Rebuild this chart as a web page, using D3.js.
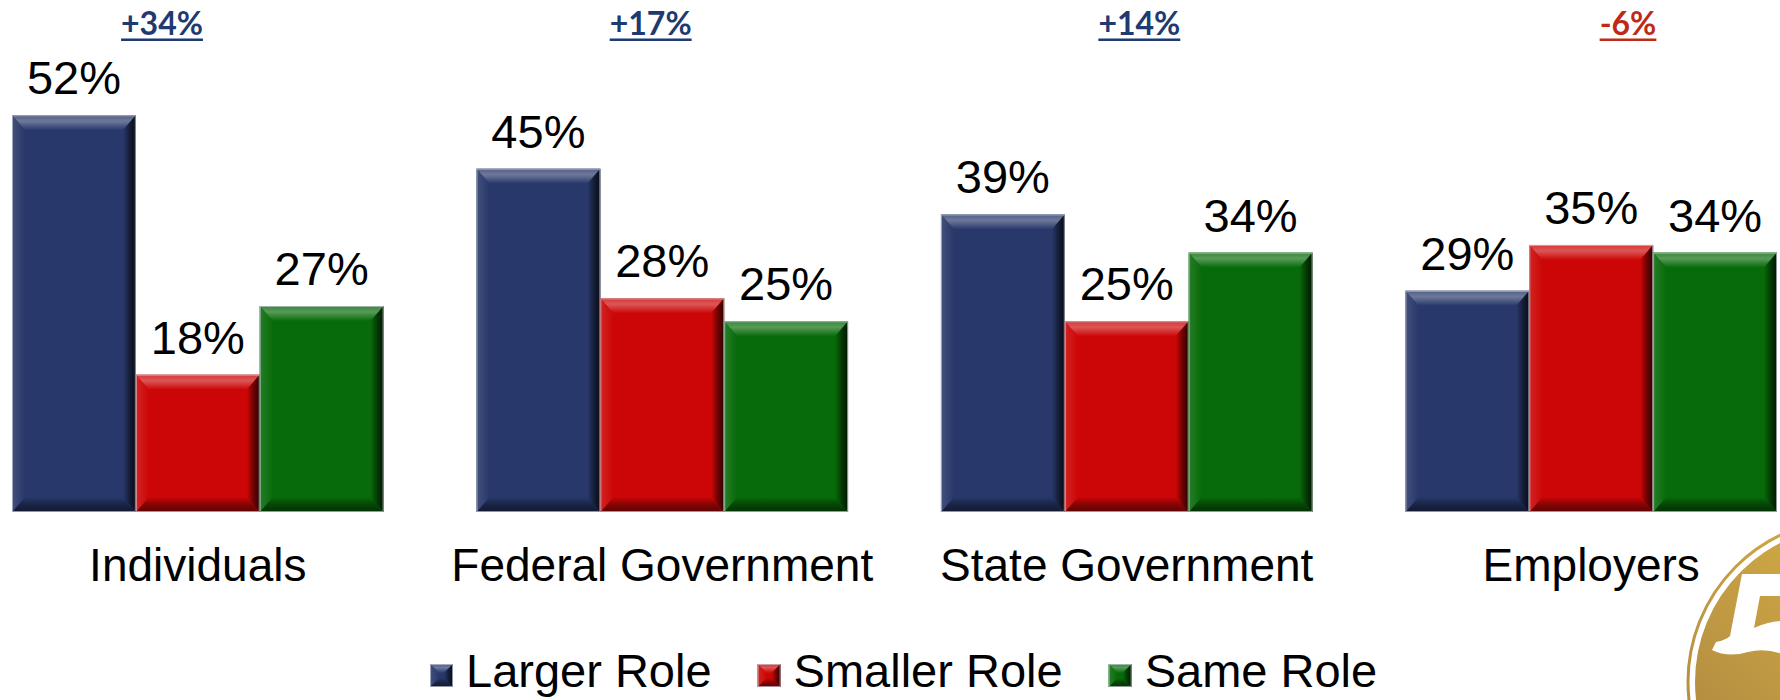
<!DOCTYPE html>
<html>
<head>
<meta charset="utf-8">
<script src="https://cdn.jsdelivr.net/npm/d3@7"></script>
<style>
  html, body { margin: 0; padding: 0; background: #ffffff; }
  svg { display: block; }
</style>
</head>
<body>
<svg id="chart" width="1780" height="700"></svg>
<script>
// Survey results: what role should each party play?
const categories  = ["Individuals", "Federal Government", "State Government", "Employers"];
const series      = ["Larger Role", "Smaller Role", "Same Role"];
const largerRole  = [52, 45, 39, 29];
const smallerRole = [18, 28, 25, 35];
const sameRole    = [27, 25, 34, 34];
const seriesColors = ["#28386a", "#cc0606", "#086b09"];

const svg = d3.select("#chart");
const defs = svg.append("defs");

const rows = categories.map((c, i) => ({
  category: c,
  values: [largerRole[i], smallerRole[i], sameRole[i]]
}));

// Net difference: larger role minus smaller role
const netLabels = rows.map(r => {
  const d = r.values[0] - r.values[1];
  return { category: r.category, value: d, text: (d > 0 ? "+" : "") + d + "%" };
});

// Scales
const x0 = d3.scaleBand().domain(categories).range([12, 1777]).paddingInner(0.2).paddingOuter(0);
const x1 = d3.scaleBand().domain(series).range([0, x0.bandwidth()]).padding(0);
const y = d3.scaleLinear().domain([0, 60]).range([512, 512 - 60 * 7.63]);
const netX = d3.scalePoint().domain(categories).range([162, 1628]);

// Bevel gradients for each series colour
const mix = (a, b, t) => d3.interpolateRgb(a, b)(t);
series.forEach((s, i) => {
  const base = seriesColors[i];
  const id = "s" + i;
  const grad = (name, gx1, gy1, gx2, gy2, stops) => {
    const g = defs.append("linearGradient").attr("id", id + name)
      .attr("x1", gx1).attr("y1", gy1).attr("x2", gx2).attr("y2", gy2);
    stops.forEach(([o, c]) => g.append("stop").attr("offset", o).attr("stop-color", c));
  };
  grad("top", 0, 0, 0, 1, [[0, mix(base, "#ffffff", 0.2)], [0.4, mix(base, "#ffffff", 0.32)], [1, base]]);
  grad("bottom", 0, 0, 0, 1, [[0, base], [0.5, mix(base, "#000000", 0.35)], [1, mix(base, "#000000", 0.55)]]);
  grad("left", 0, 0, 1, 0, [[0, mix(base, "#ffffff", 0.12)], [1, base]]);
  grad("right", 0, 0, 1, 0, [[0, base], [0.5, mix(base, "#000000", 0.45)], [1, mix(base, "#000000", 0.8)]]);
});

// Draw a bevelled block
function bevelBlock(g, x, yT, w, h, si, bx, by) {
  const yB = yT + h;
  bx = Math.min(bx, w / 2); by = Math.min(by, h / 2);
  const id = "s" + si;
  g.append("rect").attr("x", x).attr("y", yT).attr("width", w).attr("height", h)
    .attr("fill", seriesColors[si]);
  const poly = (pts, fill) => g.append("polygon")
    .attr("points", pts.map(p => p.join(",")).join(" ")).attr("fill", fill);
  poly([[x, yT], [x + w, yT], [x + w - bx, yT + by], [x + bx, yT + by]], `url(#${id}top)`);
  poly([[x, yB], [x + w, yB], [x + w - bx, yB - by], [x + bx, yB - by]], `url(#${id}bottom)`);
  poly([[x, yT], [x + bx, yT + by], [x + bx, yB - by], [x, yB]], `url(#${id}left)`);
  poly([[x + w, yT], [x + w - bx, yT + by], [x + w - bx, yB - by], [x + w, yB]], `url(#${id}right)`);
  g.append("rect").attr("x", x + 0.5).attr("y", yT + 0.5).attr("width", w - 1).attr("height", h - 1)
    .attr("fill", "none").attr("stroke", "#c9ccd6").attr("stroke-opacity", 0.7).attr("stroke-width", 1);
}

// Bars
const groups = svg.append("g").selectAll("g.group").data(rows).join("g")
  .attr("class", "group")
  .attr("transform", d => `translate(${x0(d.category)},0)`);

groups.each(function (d) {
  const g = d3.select(this);
  d.values.forEach((v, i) => {
    const bx = x1(series[i]);
    bevelBlock(g.append("g"), bx, y(v), x1.bandwidth(), y(0) - y(v), i, 13, 15);
    g.append("text")
      .attr("x", bx + x1.bandwidth() / 2)
      .attr("y", y(v) - 21)
      .attr("text-anchor", "middle")
      .attr("font-family", "'Liberation Sans', Arial, sans-serif")
      .attr("font-size", 47)
      .attr("fill", "#000")
      .text(v + "%");
  });
});

// Category labels
svg.append("g").selectAll("text").data(categories).join("text")
  .attr("x", d => x0(d) + x0.bandwidth() / 2)
  .attr("y", 581)
  .attr("text-anchor", "middle")
  .attr("font-family", "'Liberation Sans', Arial, sans-serif")
  .attr("font-size", 46)
  .attr("fill", "#000")
  .text(d => d);

// Net difference labels (underlined)
const netG = svg.append("g").selectAll("g").data(netLabels).join("g");
netG.each(function (d) {
  const g = d3.select(this);
  const fill = d.value >= 0 ? "#1f3a70" : "#be2a17";
  const t = g.append("text")
    .attr("x", netX(d.category))
    .attr("y", 35)
    .attr("text-anchor", "middle")
    .attr("font-family", "Lato, 'Open Sans', sans-serif")
    .attr("font-weight", 700)
    .attr("font-size", 32)
    .attr("fill", fill)
    .text(d.text);
  const len = t.node().getComputedTextLength();
  g.append("rect")
    .attr("x", netX(d.category) - len / 2)
    .attr("y", 38.5)
    .attr("width", len)
    .attr("height", 2.5)
    .attr("fill", fill);
});

// Legend
const legend = svg.append("g");
let lx = 430;
series.forEach((s, i) => {
  const item = legend.append("g");
  bevelBlock(item, lx, 664, 23, 23, i, 9, 9);
  const t = item.append("text")
    .attr("x", lx + 36)
    .attr("y", 687)
    .attr("font-family", "'Liberation Sans', Arial, sans-serif")
    .attr("font-size", 47)
    .attr("fill", "#000")
    .text(s);
  lx += 36 + t.node().getComputedTextLength() + 46;
});

// Logo badge in the corner
const gold = defs.append("linearGradient").attr("id", "gold")
  .attr("x1", 0).attr("y1", 1).attr("x2", 1).attr("y2", 0);
gold.append("stop").attr("offset", 0).attr("stop-color", "#a8823f");
gold.append("stop").attr("offset", 0.55).attr("stop-color", "#c9a244");
gold.append("stop").attr("offset", 1).attr("stop-color", "#e2bb3a");
const logo = svg.append("g");
logo.append("circle").attr("cx", 1851).attr("cy", 682).attr("r", 163)
  .attr("fill", "none").attr("stroke", "url(#gold)").attr("stroke-width", 3);
logo.append("circle").attr("cx", 1851).attr("cy", 682).attr("r", 156)
  .attr("fill", "url(#gold)");
// stylised numeral on the badge
logo.append("path")
  .attr("fill", "#ffffff")
  .attr("d", "M1742,574 L1795,574 L1795,596 L1760,596 L1754,628 " +
             "Q1775,618 1795,622 L1795,660 Q1770,646 1748,652 " +
             "Q1728,658 1712,650 L1716,642 Q1726,640 1730,636 Z");
</script>
</body>
</html>
